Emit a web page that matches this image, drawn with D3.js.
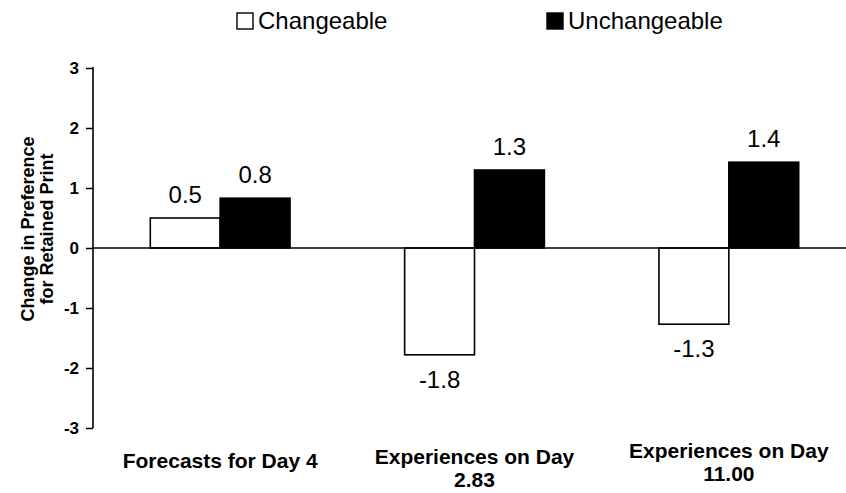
<!DOCTYPE html>
<html>
<head>
<meta charset="utf-8">
<script src="https://cdn.jsdelivr.net/npm/d3@7"></script>
<style>
    body { margin: 0; background: #fff; }
    text { font-family: "Liberation Sans", Arial, sans-serif; fill: #000; }
</style>
</head>
<body>
<script>
// chart data
var categories = ["Forecasts for Day 4", "Experiences on Day 2.83", "Experiences on Day 11.00"];
var categoryLines = [["Forecasts for Day 4"], ["Experiences on Day", "2.83"], ["Experiences on Day", "11.00"]];
var seriesNames = ["Changeable", "Unchangeable"];
var changeable = [0.5, -1.78, -1.27];
var unchangeable = [0.83, 1.3, 1.43];
var yTicks = [-3, -2, -1, 0, 1, 2, 3];

window.onload = function(){

    var w = 846, h = 493;

    var svg = d3.select("body")
        .append("svg")
        .attr("width", w)
        .attr("height", h);

    // table built from the arrays
    var rows = categories.map(function(c, i){
        return { cat: c, values: [
            { name: seriesNames[0], value: changeable[i] },
            { name: seriesNames[1], value: unchangeable[i] }
        ]};
    });

    var axisX = 93;

    var x0 = d3.scaleBand()
        .domain(categories)
        .range([axisX, 856])
        .padding(0);

    var x1 = d3.scaleBand()
        .domain(seriesNames)
        .range([0, x0.bandwidth()])
        .paddingInner(0)
        .paddingOuter(0.82);

    var y = d3.scaleLinear()
        .domain([-3, 3])
        .range([428, 68]);

    var fill = d3.scaleOrdinal()
        .domain(seriesNames)
        .range(["#ffffff", "#000000"]);

    // plain hyphen for negatives, like the original
    var fmt = function(v){ return d3.format(".1f")(v).replace("\u2212", "-"); };

    // y axis
    var yAxis = d3.axisLeft(y)
        .tickValues(yTicks)
        .tickSize(7)
        .tickFormat(function(d){ return String(d); });

    var axis = svg.append("g")
        .attr("class", "axis")
        .attr("transform", "translate(" + axisX + ",0)")
        .call(yAxis);

    axis.select(".domain")
        .attr("d", "M0," + (y(3) - 1) + "V" + y(-3))
        .attr("stroke", "#000")
        .attr("stroke-width", 1.6);
    axis.selectAll(".tick line")
        .attr("stroke", "#000")
        .attr("stroke-width", 1.5);
    axis.selectAll(".tick text")
        .attr("x", -14)
        .style("font-size", "17px")
        .style("font-weight", "bold")
        .style("font-family", "'Liberation Sans', Arial, sans-serif");

    // bars
    var groups = svg.selectAll(".group")
        .data(rows)
        .enter()
        .append("g")
        .attr("class", "group")
        .attr("transform", function(d){ return "translate(" + x0(d.cat) + ",0)"; });

    groups.selectAll("rect")
        .data(function(d){ return d.values; })
        .enter()
        .append("rect")
        .attr("x", function(d){ return x1(d.name); })
        .attr("width", x1.bandwidth())
        .attr("y", function(d){ return y(Math.max(0, d.value)); })
        .attr("height", function(d){ return Math.abs(y(d.value) - y(0)); })
        .attr("fill", function(d){ return fill(d.name); })
        .attr("stroke", "#000")
        .attr("stroke-width", 1.6);

    groups.selectAll(".val")
        .data(function(d){ return d.values; })
        .enter()
        .append("text")
        .attr("class", "val")
        .attr("text-anchor", "middle")
        .attr("x", function(d){ return x1(d.name) + x1.bandwidth() / 2; })
        .attr("y", function(d){
            return d.value >= 0 ? y(d.value) - 15 : y(d.value) + 33;
        })
        .style("font-size", "24px")
        .text(function(d){ return fmt(d.value); });

    // zero line
    svg.append("line")
        .attr("x1", axisX)
        .attr("x2", w)
        .attr("y1", y(0))
        .attr("y2", y(0))
        .attr("stroke", "#000")
        .attr("stroke-width", 1.6);

    // category labels (the scan sits them at slightly different heights)
    var catBase = [468, 464, 458];
    var catLabels = svg.selectAll(".cat")
        .data(categoryLines)
        .enter()
        .append("text")
        .attr("class", "cat")
        .attr("text-anchor", "middle")
        .attr("y", function(d, i){ return catBase[i]; })
        .style("font-size", "21px")
        .style("font-weight", "bold");

    catLabels.selectAll("tspan")
        .data(function(d, i){ return d.map(function(s){ return { s: s, i: i }; }); })
        .enter()
        .append("tspan")
        .attr("x", function(d){ return x0(categories[d.i]) + x0.bandwidth() / 2; })
        .attr("dy", function(d, j){ return j === 0 ? 0 : 23; })
        .text(function(d){ return d.s; });

    // y title
    var title = svg.append("text")
        .attr("transform", "translate(0," + 229 + ") rotate(-90)")
        .attr("text-anchor", "middle")
        .style("font-size", "18px")
        .style("font-weight", "bold");
    title.append("tspan").attr("x", 0).attr("y", 34).text("Change in Preference");
    title.append("tspan").attr("x", 0).attr("y", 53).text("for Retained Print");

    // legend
    var legendX = [237, 547];
    var legend = svg.selectAll(".legend")
        .data(seriesNames)
        .enter()
        .append("g")
        .attr("class", "legend")
        .attr("transform", function(d, i){ return "translate(" + legendX[i] + ",0)"; });

    legend.append("rect")
        .attr("x", 0)
        .attr("y", 13)
        .attr("width", 16)
        .attr("height", 16)
        .attr("fill", function(d){ return fill(d); })
        .attr("stroke", "#000")
        .attr("stroke-width", 1.4);

    legend.append("text")
        .attr("x", 21)
        .attr("y", 29)
        .style("font-size", "24px")
        .text(function(d){ return d; });
};
</script>
</body>
</html>
